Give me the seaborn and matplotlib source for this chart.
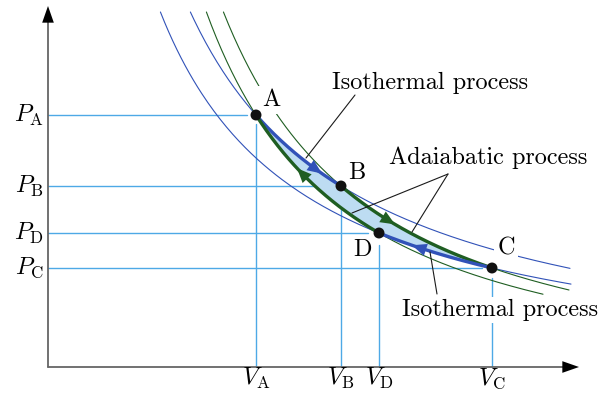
import numpy as np
import matplotlib.pyplot as plt
import seaborn as sns

sns.set_theme(style="white")
plt.rcParams['mathtext.fontset'] = 'cm'
plt.rcParams['font.family'] = ['cmr10', 'DejaVu Serif']
plt.rcParams['axes.unicode_minus'] = False
plt.rcParams['text.color'] = 'black'

# state points of the Carnot cycle (arbitrary units)
states = ['A', 'B', 'C', 'D']
V_state = [2.36, 3.21, 4.72, 3.59]
P_state = [2.70, 1.99, 1.17, 1.52]

# where the thin guide curves stop
P_top = 3.73
V_end_hot = 5.50
V_end_cold = 5.51
V_end_adia_BC = 5.49
V_end_adia_AD = 5.23

BLUE = '#3152b8'
GREEN = '#1f5e22'
REF = '#4ea9e6'
FILL = '#bddcf2'
FS = 17.5


def exponent(i, j):
    return np.log(P_state[i] / P_state[j]) / np.log(V_state[j] / V_state[i])


def curve(i, j, v_from, v_to, num=200):
    # power law P ~ V^-n through states i and j
    n = exponent(i, j)
    v = np.linspace(v_from, v_to, num)
    return v, P_state[i] * (v / V_state[i]) ** (-n)


def v_at(i, j, p):
    n = exponent(i, j)
    return V_state[i] * (P_state[i] / p) ** (1 / n)


fig = plt.figure(figsize=(5.99, 3.93), dpi=100)
ax = fig.add_axes([0, 0, 1, 1])
ax.set_xlim(-0.2, 5.79)
ax.set_ylim(-0.08, 3.85)
ax.axis('off')

# thin guide curves: two isotherms (blue), two adiabats (green)
guides = [
    (0, 1, V_end_hot, BLUE),
    (3, 2, V_end_cold, BLUE),
    (1, 2, V_end_adia_BC, GREEN),
    (0, 3, V_end_adia_AD, GREEN),
]
for i, j, v_end, col in guides:
    v, p = curve(i, j, v_at(i, j, P_top), v_end)
    sns.lineplot(x=v, y=p, ax=ax, color=col, lw=0.8, sort=False,
                 estimator=None, zorder=2)

# cycle path
VA, VB, VC, VD = V_state
vab, pab = curve(0, 1, VA, VB)
vbc, pbc = curve(1, 2, VB, VC)
vdc, pdc = curve(3, 2, VD, VC)
vad, pad = curve(0, 3, VA, VD)
ax.fill(np.concatenate([vab, vbc, vdc[::-1], vad[::-1]]),
        np.concatenate([pab, pbc, pdc[::-1], pad[::-1]]),
        color=FILL, lw=0, zorder=1)
for v, p, col in [(vab, pab, BLUE), (vbc, pbc, GREEN),
                  (vdc, pdc, BLUE), (vad, pad, GREEN)]:
    sns.lineplot(x=v, y=p, ax=ax, color=col, lw=2.4, sort=False,
                 estimator=None, zorder=4)

# direction arrows on the cycle
arrows = [(0, 1, 2.94, 3.02, BLUE), (1, 2, 3.67, 3.75, GREEN),
          (3, 2, 4.00, 3.92, BLUE), (0, 3, 2.85, 2.77, GREEN)]
for i, j, v0, v1, col in arrows:
    n = exponent(i, j)
    p0 = P_state[i] * (v0 / V_state[i]) ** (-n)
    p1 = P_state[i] * (v1 / V_state[i]) ** (-n)
    ax.annotate('', xy=(v1, p1), xytext=(v0, p0), zorder=5,
                arrowprops=dict(arrowstyle='-|>,head_length=0.7,head_width=0.3',
                                mutation_scale=15, color=col, lw=0,
                                shrinkA=0, shrinkB=0))

# reference lines to the axes
x0, y0 = 0.28, 0.18
h_ends = [2.27, 3.10, 4.62, 3.48]
v_ends = [2.61, 1.91, 1.07, 1.40]
for k in range(4):
    ax.plot([x0, h_ends[k]], [P_state[k]] * 2, color=REF, lw=1, zorder=0.5)
    ax.plot([V_state[k]] * 2, [y0, v_ends[k]], color=REF, lw=1, zorder=0.5)

# coordinate axes: grey shaft, black head
ax.plot([x0, x0], [y0, 3.70], color='0.4', lw=1.3, zorder=3)
ax.plot([x0, 5.50], [y0, y0], color='0.4', lw=1.3, zorder=3)
for tip, tail in [((x0, 3.79), (x0, 3.65)), ((5.59, y0), (5.45, y0))]:
    ax.annotate('', xy=tip, xytext=tail, zorder=3,
                arrowprops=dict(arrowstyle='-|>,head_length=0.8,head_width=0.28',
                                mutation_scale=15, color='black', lw=0,
                                shrinkA=0, shrinkB=0))

sns.scatterplot(x=V_state, y=P_state, ax=ax, s=62, color='#111111',
                edgecolor='none', zorder=7)

# point labels
label_pos = {'A': (2.51, 2.85), 'B': (3.37, 2.12), 'C': (4.86, 1.37), 'D': (3.42, 1.35)}
for s in states:
    ax.text(*label_pos[s], s, fontsize=FS, ha='center', va='center', zorder=6,
            bbox=dict(fc='white', ec='none', pad=2.5 if s in 'AC' else 0,
                      alpha=1 if s in 'AC' else 0))

# axis labels
for k, s in enumerate(states):
    ax.text(0.24, P_state[k], r'$P_{\mathrm{%s}}$' % s, fontsize=FS,
            ha='right', va='center')
    ax.text(V_state[k], 0.065, r'$V_{\mathrm{%s}}$' % s, fontsize=FS,
            ha='center', va='center')

# process annotations
ax.text(4.10, 3.02, 'Isothermal process', fontsize=FS, ha='center', va='center')
ax.plot([3.35, 2.86], [2.90, 2.27], color='0.1', lw=0.8, zorder=6)

ax.text(4.68, 2.27, 'Adaiabatic process', fontsize=FS, ha='center', va='center')
ax.plot([4.28, 3.32], [2.11, 1.72], color='0.1', lw=0.8, zorder=6)
ax.plot([4.28, 3.92], [2.11, 1.53], color='0.1', lw=0.8, zorder=6)

ax.text(4.80, 0.75, 'Isothermal process', fontsize=FS, ha='center', va='center',
        zorder=6, bbox=dict(fc='white', ec='none', pad=1))
ax.plot([4.17, 4.10], [0.91, 1.33], color='0.1', lw=0.8, zorder=6)

fig.savefig('out.png', dpi=100)
